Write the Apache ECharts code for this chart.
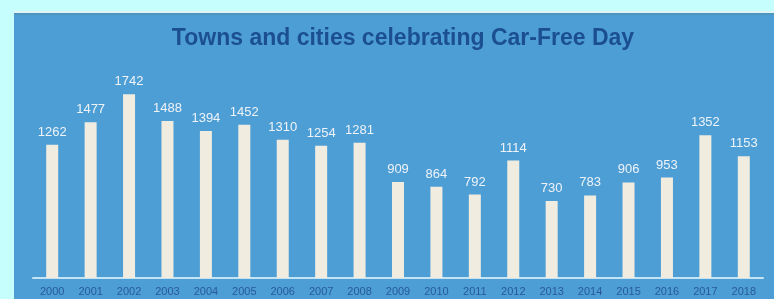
<!DOCTYPE html>
<html>
<head>
<meta charset="utf-8">
<script src="https://cdn.jsdelivr.net/npm/echarts@6/dist/echarts.min.js"></script>
<style>
  html, body { margin: 0; padding: 0; background: #c6fefe; }
  #main { width: 774px; height: 299px; }
</style>
</head>
<body>
<div id="main"></div>
<script>
const YEARS = ['2000', '2001', '2002', '2003', '2004', '2005', '2006', '2007', '2008', '2009',
  '2010', '2011', '2012', '2013', '2014', '2015', '2016', '2017', '2018']
const TOWNS = [1262, 1477, 1742, 1488, 1394, 1452, 1310, 1254, 1281, 909,
  864, 792, 1114, 730, 783, 906, 953, 1352, 1153]

var myChart = echarts.init(document.getElementById('main'), null, { renderer: 'canvas' });
let option = {
  backgroundColor: '#c6fefe',
  animation: false,
  graphic: [
    // blue panel with a pale top edge
    { type: 'rect', z: -10, shape: { x: 14, y: 11, width: 760, height: 288 }, style: { fill: '#4e9ed6' } },
    { type: 'rect', z: -9, shape: { x: 14, y: 11, width: 760, height: 2 }, style: { fill: '#e2f4f8' } },
    { type: 'rect', z: -9, shape: { x: 14, y: 13, width: 760, height: 2 }, style: { fill: '#4a98be' } }
  ],
  title: {
    text: 'Towns and cities celebrating Car-Free Day',
    left: 398,
    textAlign: 'center',
    top: 22,
    textStyle: {
      color: '#1b4f92',
      fontSize: 23,
      fontWeight: 'bold',
      fontFamily: 'Liberation Sans'
    }
  },
  grid: {
    left: 33,
    right: 11,
    top: 67,
    bottom: 21
  },
  xAxis: {
    type: 'category',
    data: YEARS,
    axisLine: {
      lineStyle: { color: '#c4e4f4', width: 2 }
    },
    axisTick: { show: false },
    axisLabel: {
      color: '#285a98',
      fontSize: 11,
      margin: 8,
      fontFamily: 'Liberation Sans'
    }
  },
  yAxis: {
    type: 'value',
    min: 0,
    max: 2000,
    show: false
  },
  series: [
    {
      type: 'bar',
      data: TOWNS,
      barWidth: 12,
      itemStyle: { color: '#f1ece0' },
      label: {
        show: true,
        position: 'top',
        distance: 6,
        color: '#eef3f8',
        fontSize: 13,
        fontFamily: 'Liberation Sans'
      }
    }
  ]
}
option && myChart.setOption(option);
</script>
</body>
</html>
